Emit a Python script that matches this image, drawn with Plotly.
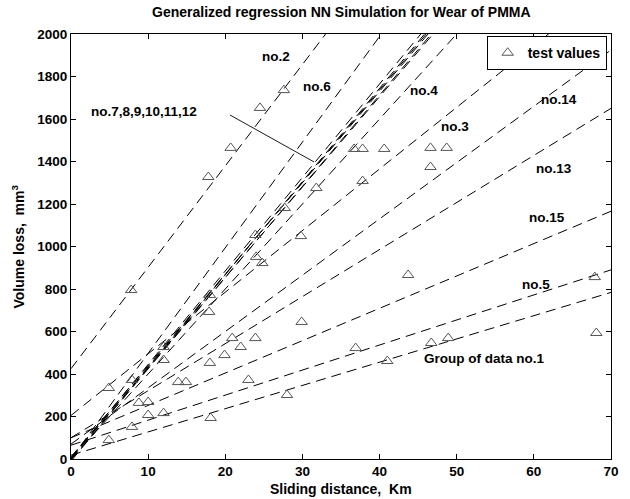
import plotly.graph_objects as go

# ---- data ----
line_names = ["no.1", "no.2", "no.3", "no.4", "no.5", "no.6",
              "no.7", "no.8", "no.9", "no.10", "no.11", "no.12",
              "no.13", "no.14", "no.15"]
line_x = [0, 70]
line_y0 = [18, 425, 205, 0, 65, 0, 5, -5, 10, 0, -10, 5, 100, 70, 100]
line_y70 = [784, 3765, 2235, 2800, 890, 3480, 2980, 3000, 3020, 3040, 3060, 3085, 1650, 1925, 1166]

test_x = [17.8, 20.7, 24.5, 27.6, 31.8, 27.7, 36.7, 37.8, 40.6, 46.6, 48.7, 46.6, 37.8,
          7.8, 4.9, 7.9, 12.0, 12.0, 18.0, 17.9, 23.9, 24.0, 24.8, 29.8, 29.9,
          8.8, 10.0, 10.0, 12.0, 13.9, 14.9, 18.0, 19.9, 20.9, 22.0, 23.9, 23.0,
          28.0, 18.1, 7.9, 4.9, 43.7, 36.9, 41.0, 46.7, 48.9, 67.9, 68.1]
test_y = [1327, 1464, 1652, 1736, 1275, 1181, 1459, 1459, 1459, 1464, 1464, 1374, 1308,
          795, 334, 372, 527, 466, 772, 692, 1054, 951, 922, 1049, 645,
          264, 268, 207, 216, 362, 362, 452, 489, 569, 527, 569, 372,
          301, 193, 151, 89, 866, 522, 461, 546, 569, 856, 593]

label_text = ["no.2", "no.6", "no.7,8,9,10,11,12", "no.4", "no.3", "no.14",
              "no.13", "no.15", "no.5", "Group of data no.1"]
label_x = [26.6, 31.9, 9.45, 45.7, 49.8, 63.2, 62.6, 61.7, 60.3, 53.5]
label_y = [1892, 1751, 1633, 1736, 1567, 1694, 1369, 1135, 819, 471]

pointer_x = [20.6, 31.5]
pointer_y = [1619, 1398]

x_ticks = [0, 10, 20, 30, 40, 50, 60, 70]
y_ticks = [0, 200, 400, 600, 800, 1000, 1200, 1400, 1600, 1800, 2000]

FONT = "Liberation Sans"

fig = go.Figure()

for name, a, b in zip(line_names, line_y0, line_y70):
    fig.add_trace(go.Scatter(
        x=line_x, y=[a, b], mode="lines", name=name, showlegend=False,
        line=dict(color="black", width=1, dash="10px,6px"), hoverinfo="skip"))

fig.add_trace(go.Scatter(
    x=pointer_x, y=pointer_y, mode="lines", showlegend=False,
    line=dict(color="black", width=0.9), hoverinfo="skip"))

fig.add_trace(go.Scatter(
    x=test_x, y=test_y, mode="markers", name="test values",
    marker=dict(symbol="triangle-up-open", size=10, color="#555555",
                line=dict(width=1, color="#555555"))))

for t, lx, ly in zip(label_text, label_x, label_y):
    fig.add_annotation(x=lx, y=ly, text=t, showarrow=False,
                       font=dict(family=FONT, size=13.5, color="black", weight="bold"))

# axis titles and chart title
fig.add_annotation(xref="paper", yref="paper", x=0.5, y=1, yanchor="middle", yshift=22,
                   text="Generalized regression NN Simulation for Wear of PMMA",
                   showarrow=False, font=dict(family=FONT, size=14, color="black", weight="bold"))
fig.add_annotation(xref="paper", yref="paper", x=0.5, y=0, yanchor="middle", yshift=-30,
                   text="Sliding distance,  Km",
                   showarrow=False, font=dict(family=FONT, size=14, color="black", weight="bold"))
fig.add_annotation(xref="paper", yref="paper", x=0, xanchor="center", xshift=-53, y=0.5,
                   text="Volume loss,  mm<sup>3</sup>",
                   textangle=-90, showarrow=False,
                   font=dict(family=FONT, size=14, color="black", weight="bold"))

axis_common = dict(showgrid=False, zeroline=False, showline=True, linecolor="black",
                   linewidth=1, mirror="ticks", ticks="inside", ticklen=5,
                   tickcolor="black", tickwidth=1,
                   tickfont=dict(family=FONT, size=13.5, color="black", weight="bold"))

fig.update_xaxes(range=[0, 70], tickvals=x_ticks, **axis_common)
fig.update_yaxes(range=[0, 2000], tickvals=y_ticks, **axis_common)

fig.update_layout(
    width=630, height=499,
    margin=dict(l=71, r=11, t=34, b=40),
    paper_bgcolor="white", plot_bgcolor="white",
    legend=dict(x=0.992, xanchor="right", y=0.995, yanchor="top",
                bordercolor="black", borderwidth=1, bgcolor="white",
                font=dict(family=FONT, size=14, color="black", weight="bold")),
)

fig.write_html("out.html")
